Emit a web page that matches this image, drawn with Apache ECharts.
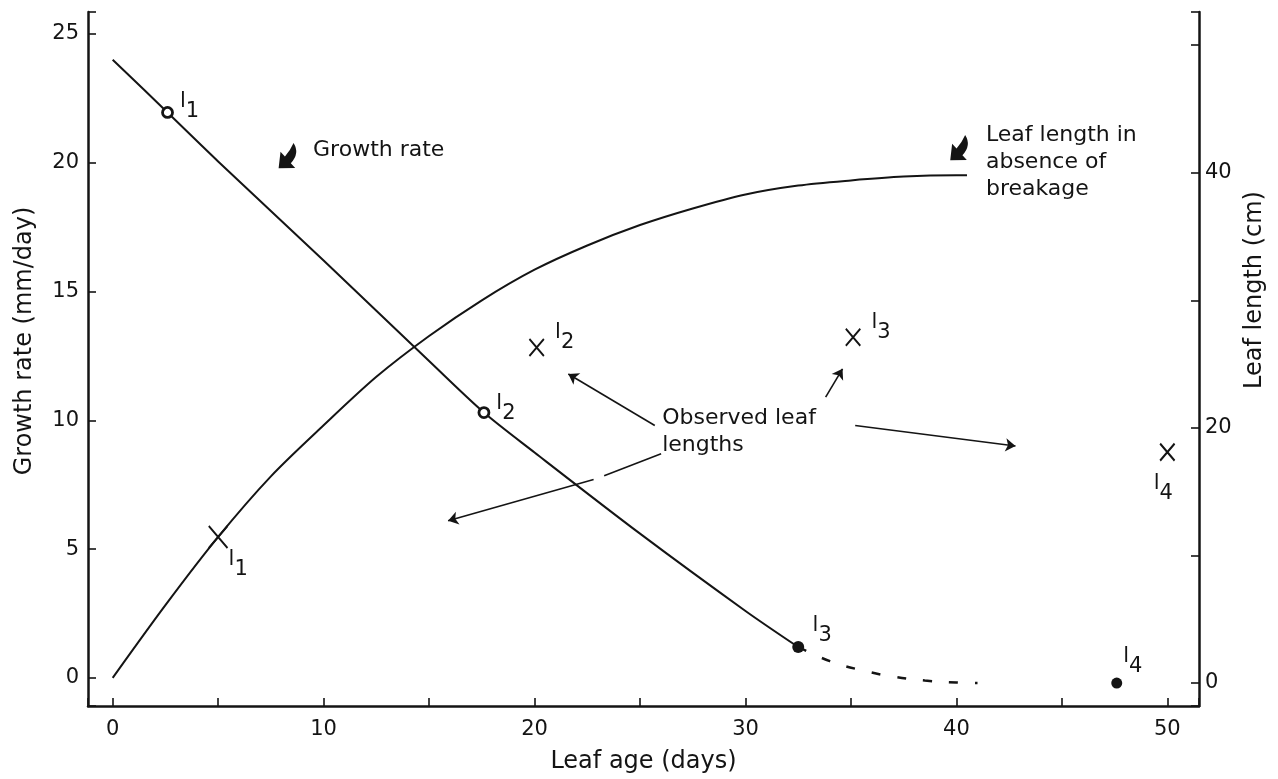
<!DOCTYPE html>
<html><head><meta charset="utf-8">
<script src="https://cdn.jsdelivr.net/npm/echarts@6/dist/echarts.min.js"></script>
<style>html,body{margin:0;padding:0;background:#fff}#c{width:1278px;height:779px}</style>
</head><body><div id="c"></div>
<script>
// ---- data ----
const xTickLabels = [0, 10, 20, 30, 40, 50];
const leftTickLabels = [0, 5, 10, 15, 20, 25];
const rightTickLabels = [0, 20, 40];

const growthAge = [0, 2.6, 5, 10, 15, 17.6, 20, 25, 30, 32.5];
const growthRate = [24, 21.95, 20.05, 16.2, 12.3, 10.3, 8.75, 5.6, 2.6, 1.2];
const growthDashAge = [32.5, 34, 35.5, 37, 38.5, 40, 41];
const growthDashRate = [1.2, 0.65, 0.3, 0.05, -0.1, -0.18, -0.2];

const lengthAge = [0, 2.5, 5, 7.5, 10, 12.5, 15, 17.5, 20, 22.5, 25, 27.5, 30, 32.5, 35, 37.5, 40, 40.5];
const lengthCm = [0.4, 6.1, 11.45, 16.2, 20.2, 24, 27.2, 30, 32.4, 34.3, 35.9, 37.2, 38.3, 39, 39.4, 39.7, 39.8, 39.8];

const leafIds = ['1', '2', '3', '4'];
const rateAge = [2.6, 17.6, 32.5, 47.6];
const rateVal = [21.95, 10.3, 1.2, -0.2];
const obsAge = [5, 20.1, 35.1, 50];
const obsLen = [11.45, 26.3, 27.1, 18.1];

const textAge = [9.5, 41.4, 26.05];
const textRate = [20.5, 20.0, 9.55];
const textLabels = ['Growth rate', 'Leaf length in\nabsence of\nbreakage', 'Observed leaf\nlengths'];

const bigArrowAge = [8.36, 40.2];
const bigArrowRate = [20.15, 20.46];

// thin arrows (age, rate) from -> to
const arrowFromAge = [25.7, 33.8, 35.2, 22.8];
const arrowFromRate = [9.8, 10.9, 9.8, 7.7];
const arrowToAge = [21.6, 34.6, 42.8, 15.9];
const arrowToRate = [11.8, 12.0, 9.0, 6.1];
const arrowGapFromAge = 26.0, arrowGapFromRate = 8.7, arrowGapToAge = 23.3, arrowGapToRate = 7.85;

// ---- chart ----
const FONT = 'DejaVu Sans';
const INK = '#141414';
const chart = echarts.init(document.getElementById('c'), null, {renderer: 'canvas'});

const zip = (a, b) => a.map((v, i) => [v, b[i]]);
const subRich = {
  l: {fontFamily: FONT, fontSize: 21, color: INK, padding: [0, 0, 10, 0]},
  d: {fontFamily: FONT, fontSize: 21, color: INK, padding: [10, 0, 0, 0]}
};
const leafLabel = (id) => '{l|l}{d|' + id + '}';

const rateOffsets = [[22, -6], [22, -4], [24, -16], [16, -22]];
const rateFilled = [false, false, true, true];
const rateSizes = [10, 10, 12, 11];
const obsOffsets = [[20, 28], [28, -10], [28, -10], [-4, 36]];
const obsSizes = [22, 17, 17, 17];

const xPath = 'path://M0,0L10,12M10,0L0,12';
const bigArrowPath = 'path://M0,10 L12,0 L12,6 Q20,5 27,2 Q25,13 12,14 L12,20 Z';

const axisLineStyle = {color: INK, width: 2.5};
const labelStyle = {fontFamily: FONT, fontSize: 21, color: INK};
const tickStyle = {show: true, inside: true, length: 8, lineStyle: {color: INK, width: 1.6}};

const option = {
  animation: false,
  backgroundColor: '#fff',
  grid: {left: 88, right: 79, top: 12, bottom: 73, show: false},
  xAxis: {
    type: 'value', min: -1.17, max: 51.5, splitNumber: 10,
    name: 'Leaf age (days)', nameLocation: 'middle', nameGap: 44,
    nameTextStyle: {fontFamily: FONT, fontSize: 24, color: INK},
    axisLine: {show: true, onZero: false, lineStyle: axisLineStyle},
    axisTick: tickStyle,
    axisLabel: {margin: 13, ...labelStyle, formatter: v => xTickLabels.includes(v) ? String(v) : ''},
    splitLine: {show: false}
  },
  yAxis: [{
    type: 'value', min: -1.09, max: 25.85, splitNumber: 5, position: 'left',
    name: 'Growth rate (mm/day)', nameLocation: 'middle', nameGap: 51, nameRotate: 90,
    nameTextStyle: {fontFamily: FONT, fontSize: 24, color: INK, padding: [0, 0, 0, 36]},
    axisLine: {show: true, onZero: false, lineStyle: axisLineStyle},
    axisTick: tickStyle,
    axisLabel: {margin: 9, ...labelStyle, formatter: v => leftTickLabels.includes(v) ? String(v) : ''},
    splitLine: {show: false}
  }, {
    type: 'value', min: -1.8, max: 52.6, splitNumber: 5, position: 'right',
    name: 'Leaf length (cm)', nameLocation: 'middle', nameGap: 44, nameRotate: 90,
    nameTextStyle: {fontFamily: FONT, fontSize: 24, color: INK, padding: [0, 0, 0, 138]},
    axisLine: {show: true, onZero: false, lineStyle: axisLineStyle},
    axisTick: tickStyle,
    axisLabel: {margin: 6, ...labelStyle, formatter: v => rightTickLabels.includes(v) ? String(v) : ''},
    splitLine: {show: false}
  }],
  series: [
    {
      type: 'line', name: 'Growth rate', yAxisIndex: 0, data: zip(growthAge, growthRate),
      smooth: 0.3, showSymbol: false, symbol: 'none',
      lineStyle: {color: INK, width: 2}
    },
    {
      type: 'line', name: 'Growth rate (extrapolated)', yAxisIndex: 0, data: zip(growthDashAge, growthDashRate),
      smooth: 0.4, showSymbol: false, symbol: 'none',
      lineStyle: {color: INK, width: 2.5, type: [9, 17]}
    },
    {
      type: 'line', name: 'Leaf length', yAxisIndex: 1, data: zip(lengthAge, lengthCm),
      smooth: 0.3, showSymbol: false, symbol: 'none',
      lineStyle: {color: INK, width: 2}
    },
    {
      type: 'scatter', name: 'Growth points', yAxisIndex: 0, z: 5,
      data: rateAge.map((a, i) => ({
        value: [a, rateVal[i]], symbol: 'circle', symbolSize: rateSizes[i],
        itemStyle: {opacity: 1, color: rateFilled[i] ? INK : '#fff', borderColor: INK, borderWidth: rateFilled[i] ? 0 : 2.8},
        label: {show: true, position: 'inside', offset: rateOffsets[i], formatter: leafLabel(leafIds[i]), rich: subRich}
      }))
    },
    {
      type: 'scatter', name: 'Observed lengths', yAxisIndex: 1, z: 5,
      data: obsAge.map((a, i) => ({
        value: [a, obsLen[i]], symbol: xPath, symbolSize: [obsSizes[i] * 0.85, obsSizes[i]],
        itemStyle: {opacity: 1, color: 'none', borderColor: INK, borderWidth: 2},
        label: {show: true, position: 'inside', offset: obsOffsets[i], formatter: leafLabel(leafIds[i]), rich: subRich}
      }))
    },
    {
      type: 'scatter', name: 'Annotations', yAxisIndex: 0, z: 6, symbolSize: 0,
      itemStyle: {opacity: 1},
      data: textAge.map((a, i) => ({
        value: [a, textRate[i]],
        label: {show: true, position: 'right', distance: 0, formatter: textLabels[i], align: 'left',
          fontFamily: FONT, fontSize: 22, lineHeight: 27, color: INK}
      })),
      markLine: {
        silent: true, symbol: ['none', 'arrow'], symbolSize: 10,
        lineStyle: {color: INK, width: 1.6, type: 'solid', opacity: 1},
        itemStyle: {color: INK},
        label: {show: false},
        emphasis: {disabled: true},
        data: arrowFromAge.map((a, i) => [
          {coord: [a, arrowFromRate[i]], lineStyle: {curveness: i === 0 ? -0.15 : 0}},
          {coord: [arrowToAge[i], arrowToRate[i]]}
        ]).concat([[
          {coord: [arrowGapFromAge, arrowGapFromRate], symbol: 'none'},
          {coord: [arrowGapToAge, arrowGapToRate], symbol: 'none'}
        ]])
      }
    },
    {
      type: 'scatter', name: 'Pointers', yAxisIndex: 0, z: 6,
      symbol: bigArrowPath, symbolSize: [28, 22], symbolRotate: 42,
      itemStyle: {color: INK, opacity: 1},
      data: zip(bigArrowAge, bigArrowRate)
    }
  ]
};
chart.setOption(option);
</script>
</body></html>
